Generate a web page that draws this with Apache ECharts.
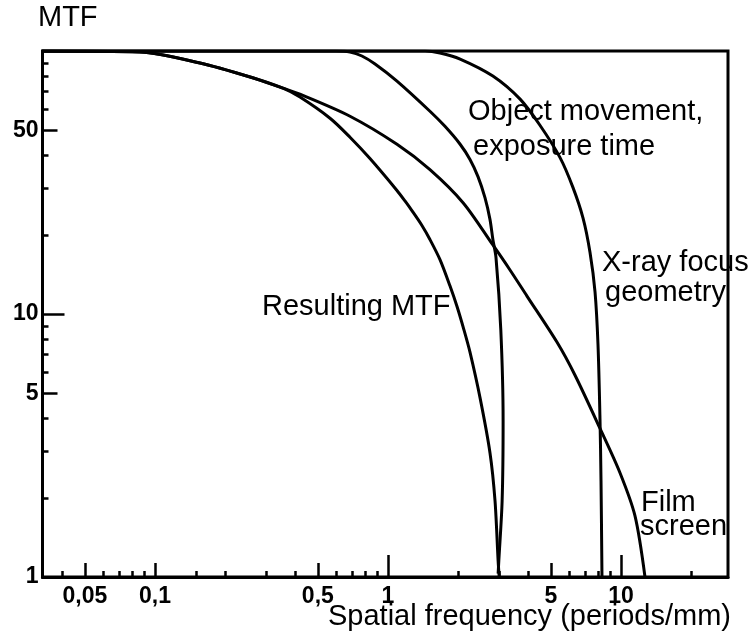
<!DOCTYPE html>
<html>
<head>
<meta charset="utf-8">
<script src="https://cdn.jsdelivr.net/npm/echarts@6/dist/echarts.min.js"></script>
<style>
  html, body { margin: 0; padding: 0; background: #fff; }
  #chart { width: 750px; height: 642px; }
</style>
</head>
<body>
<div id="chart"></div>
<script>
// MTF curves, [spatial frequency (periods/mm), MTF]
const filmScreen = [
  [0.0329, 100], [0.0862, 99.1], [0.156, 90.0], [0.256, 79.6], [0.354, 72.2],
  [0.419, 68.5], [0.687, 56.5], [1.093, 44.2], [1.514, 35.4], [2.10, 26.5],
  [2.82, 18.3], [3.34, 14.7], [3.95, 11.7], [5.31, 7.82], [6.35, 5.85],
  [8.13, 3.67], [9.90, 2.49], [11.48, 1.71], [12.68, 1.0]
];
const objectMovement = [
  [0.0329, 100], [0.598, 100], [0.687, 99.1], [0.773, 95.7], [0.880, 89.2],
  [1.093, 76.8], [1.514, 59.0], [1.756, 51.7], [2.04, 44.2], [2.249, 38.7],
  [2.434, 33.3], [2.608, 27.7], [2.740, 22.9], [2.82, 19.2], [2.908, 16.4],
  [3.05, 8.69], [3.12, 3.94], [3.09, 1.95], [2.99, 1.15], [2.97, 1.03]
];
const xrayFocus = [
  [0.0329, 100], [1.442, 100], [1.672, 98.3], [2.04, 93.2], [2.82, 80.3],
  [3.69, 65.6], [4.49, 52.2], [5.47, 39.4], [6.22, 30.3], [6.87, 23.2],
  [7.36, 17.2], [7.74, 12.1], [7.97, 7.62], [8.13, 3.94], [8.21, 2.32], [8.29, 1.0]
];
const resultingMtf = [
  [0.0329, 100], [0.0862, 99.1], [0.156, 90.0], [0.256, 79.6], [0.354, 72.2],
  [0.419, 66.8], [0.564, 55.5], [0.687, 47.0], [0.837, 39.0], [1.093, 29.5],
  [1.183, 26.9], [1.280, 24.4], [1.399, 21.7], [1.514, 19.2], [1.672, 16.1],
  [1.845, 12.8], [1.977, 10.7], [2.120, 8.69], [2.249, 7.16], [2.482, 4.82],
  [2.74, 2.97], [2.88, 1.95], [2.97, 1.15], [3.00, 1.01]
];

// Axis ticks and labels
const xLabelValues = [0.05, 0.1, 0.5, 1, 5, 10];
const xLabelTexts = ['0,05', '0,1', '0,5', '1', '5', '10'];
const xDecadeTicks = [1, 10];
const xMidTicks = [0.05, 0.1, 0.5, 5];
const xMinorTicks = [0.04, 0.06, 0.07, 0.08, 0.09, 0.15, 0.2, 0.3, 0.4, 0.6, 0.7, 0.8, 0.9,
                     2, 3, 4, 6, 7, 8, 9, 20];
const yLabelValues = [1, 5, 10, 50];
const yLabelTexts = ['1', '5', '10', '50'];
const yDecadeTicks = [10];
const yMidTicks = [5, 50];
const yMinorTicks = [2, 3, 4, 6, 7, 8, 9, 20, 30, 40, 60, 70, 80, 90];

const X_MIN = 0.0329, X_MAX = 28.8, Y_MIN = 1, Y_MAX = 100;
const FONT = '"Liberation Sans", Arial, Helvetica, sans-serif';

function lookup(values, texts, v) {
  for (let i = 0; i < values.length; i++) {
    if (Math.abs(values[i] - v) / values[i] < 1e-6) return texts[i];
  }
  return '';
}

function xAxisOf(ticks, len, withLine, withLabels) {
  return {
    type: 'log', position: 'bottom', min: X_MIN, max: X_MAX,
    axisLine: { show: withLine, lineStyle: { color: '#000', width: 3 } },
    axisTick: { show: true, inside: true, length: len, customValues: ticks,
                lineStyle: { color: '#000', width: 2.5 } },
    axisLabel: withLabels ? {
      show: true, customValues: xLabelValues, margin: 8,
      fontFamily: FONT, fontWeight: 'bold', fontSize: 23, color: '#000',
      formatter: v => lookup(xLabelValues, xLabelTexts, v)
    } : { show: false },
    splitLine: { show: false }
  };
}

function yAxisOf(ticks, len, withLine, withLabels) {
  return {
    type: 'log', position: 'left', min: Y_MIN, max: Y_MAX,
    axisLine: { show: withLine, lineStyle: { color: '#000', width: 3 } },
    axisTick: { show: true, inside: true, length: len, customValues: ticks,
                lineStyle: { color: '#000', width: 2.5 } },
    axisLabel: withLabels ? {
      show: true, customValues: yLabelValues, margin: 4,
      fontFamily: FONT, fontWeight: 'bold', fontSize: 23, color: '#000',
      formatter: v => lookup(yLabelValues, yLabelTexts, v)
    } : { show: false },
    splitLine: { show: false }
  };
}

function curve(name, data) {
  return {
    name, type: 'line', data, xAxisIndex: 0, yAxisIndex: 0,
    symbol: 'none', smooth: 0.3,
    lineStyle: { color: '#000', width: 3 }
  };
}

function label(text, x, y) {
  return {
    type: 'text',
    style: { text, x, y, font: '29px ' + FONT, fill: '#000',
             textAlign: 'left', textVerticalAlign: 'middle',
             align: 'left', verticalAlign: 'middle' }
  };
}

const chart = echarts.init(document.getElementById('chart'), null, { renderer: 'canvas' });
chart.setOption({
  animation: false,
  backgroundColor: '#fff',
  grid: { left: 42.5, right: 22, top: 51, bottom: 65, show: true,
          borderColor: '#000', borderWidth: 3, backgroundColor: 'transparent' },
  xAxis: [
    xAxisOf(xDecadeTicks, 22, true, true),
    xAxisOf(xMidTicks, 14, false, false),
    xAxisOf(xMinorTicks, 6, false, false)
  ],
  yAxis: [
    yAxisOf(yDecadeTicks, 22, true, true),
    yAxisOf(yMidTicks, 15, false, false),
    yAxisOf(yMinorTicks, 6, false, false)
  ],
  series: [
    curve('Film screen', filmScreen),
    curve('Object movement, exposure time', objectMovement),
    curve('X-ray focus geometry', xrayFocus),
    curve('Resulting MTF', resultingMtf)
  ],
  graphic: [
    label('MTF', 38, 18),
    label('Object movement,', 468, 112),
    label('exposure time', 473, 147),
    label('X-ray focus', 602, 263),
    label('geometry', 605, 293),
    label('Resulting MTF', 262, 307),
    label('Film', 641, 503),
    label('screen', 640, 527),
    label('Spatial frequency (periods/mm)', 328, 617)
  ]
});
</script>
</body>
</html>
